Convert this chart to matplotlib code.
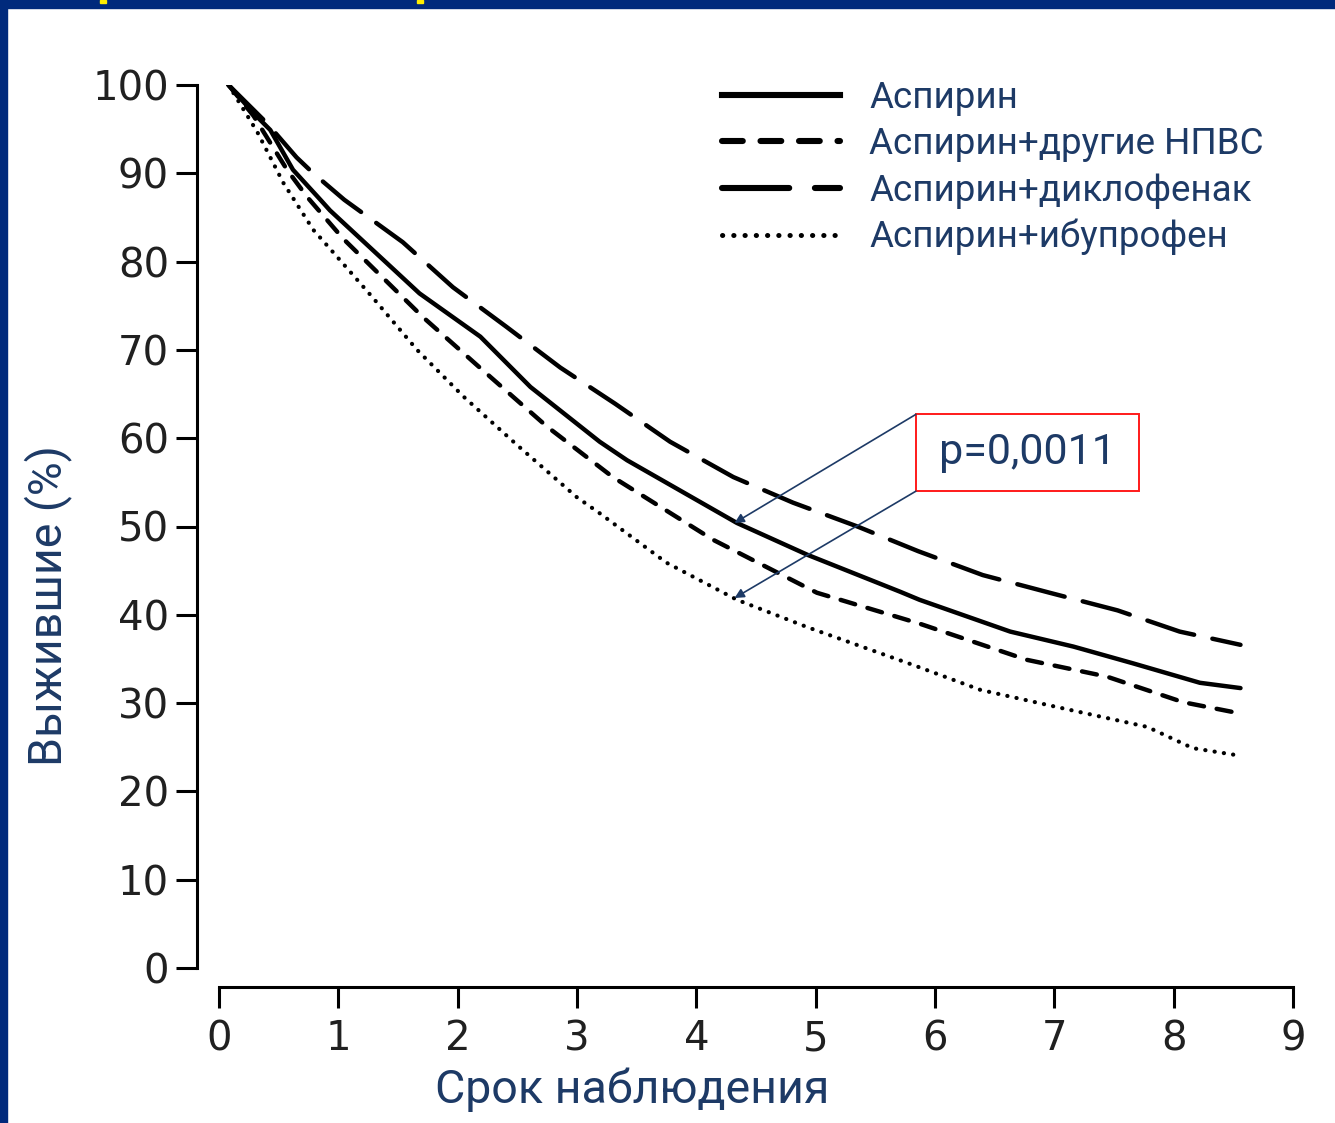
import matplotlib.pyplot as plt
from matplotlib.lines import Line2D
from matplotlib.patches import Rectangle

# Kaplan-Meier curves, years of follow-up vs. survivors (%)
t_asp = [0.08, 0.29, 0.43, 0.62, 0.85, 0.93, 1.68, 2.19, 2.61, 3.19, 3.42, 4.34,
         4.93, 5.71, 5.87, 6.63, 7.16, 7.66, 8.22, 8.56]
s_asp = [100, 96.8, 94.9, 90.4, 87.0, 85.8, 76.4, 71.5, 65.8, 59.6, 57.5, 50.4,
         46.8, 42.6, 41.7, 38.1, 36.4, 34.5, 32.3, 31.7]

t_nsaid = [0.08, 0.29, 0.57, 0.74, 1.04, 1.71, 2.21, 2.75, 3.30, 4.14, 5.01, 5.87,
           6.77, 7.44, 8.08, 8.53]
s_nsaid = [100, 96.5, 90.4, 87.3, 82.6, 73.7, 67.7, 61.3, 55.6, 48.5, 42.5, 39.0,
           34.9, 33.0, 30.1, 28.9]

t_diclo = [0.08, 0.40, 0.65, 0.79, 1.05, 1.54, 1.96, 2.41, 2.86, 3.32, 3.78, 4.31,
           4.81, 5.35, 5.86, 6.40, 6.96, 7.53, 8.05, 8.56]
s_diclo = [100, 95.7, 91.8, 90.0, 87.0, 82.2, 77.1, 72.6, 68.0, 63.9, 59.6, 55.6,
           52.7, 50.0, 47.2, 44.5, 42.5, 40.5, 38.1, 36.6]

t_ibu = [0.08, 0.32, 0.54, 0.79, 0.96, 1.29, 1.66, 2.05, 2.50, 3.00, 3.19, 3.75,
         4.34, 4.93, 5.82, 6.38, 6.94, 7.78, 8.16, 8.53]
s_ibu = [100, 94.7, 88.9, 83.6, 81.0, 75.9, 70.0, 64.7, 59.2, 53.3, 51.5, 45.9,
         41.7, 38.6, 34.3, 31.5, 29.8, 27.3, 24.9, 24.1]

labels = ['Аспирин', 'Аспирин+другие НПВС', 'Аспирин+диклофенак', 'Аспирин+ибупрофен']
x_ticks = list(range(0, 10))
y_ticks = list(range(0, 101, 10))
p_text = 'p=0,0011'

navy = '#1d3a66'
border = '#002a7c'

styles = [dict(linestyle='-'),
          dict(linestyle=(0, (3.4, 2.9)), dash_capstyle='round'),
          dict(linestyle=(0, (11.0, 4.2)), dash_capstyle='round'),
          dict(linestyle=(0, (0.05, 2.2)), dash_capstyle='round')]

fig = plt.figure(figsize=(13.35, 11.23), dpi=100)
fig.patch.set_facecolor('white')

# frame of the slide
fig.patches.append(Rectangle((0, 0), 7 / 1335, 1, transform=fig.transFigure,
                             color=border, zorder=0))
fig.patches.append(Rectangle((0, 1 - 8 / 1123), 1, 8 / 1123, transform=fig.transFigure,
                             color=border, zorder=0))
for x0 in (100, 417):
    fig.patches.append(Rectangle((x0 / 1335, 1 - 3 / 1123), 6 / 1335, 3 / 1123,
                                 transform=fig.transFigure, color='#ffee00', zorder=1))

ax = fig.add_axes([219 / 1335, 155 / 1123, 1074 / 1335, 883 / 1123])

series = [(t_asp, s_asp), (t_nsaid, s_nsaid), (t_diclo, s_diclo), (t_ibu, s_ibu)]
lws = [3.2, 3.2, 3.2, 3.0]
for (t, s), st, lw in zip(series, styles, lws):
    ax.plot(t, s, color='black', lw=lw, solid_capstyle='round', **st)

ax.set_xlim(0, 9)
ax.set_ylim(0, 100)
ax.set_xticks(x_ticks)
ax.set_yticks(y_ticks)

for side in ('top', 'right'):
    ax.spines[side].set_visible(False)
ax.spines['left'].set_position(('outward', 16))
ax.spines['bottom'].set_position(('outward', 14))
for side in ('left', 'bottom'):
    ax.spines[side].set_linewidth(2.2)
ax.tick_params(length=15, width=2.2, colors='black', labelcolor='#202020',
               labelsize=29, pad=5)
ax.tick_params(axis='x', pad=8)
for lab in ax.get_xticklabels() + ax.get_yticklabels():
    lab.set_fontfamily('DejaVu Sans')

ax.set_xlabel('Срок наблюдения', fontsize=33.5, color=navy, family='Roboto')
ax.set_ylabel('Выжившие (%)', fontsize=33.5, color=navy, family='Roboto')
ax.xaxis.set_label_coords(0.385, -0.113)
ax.yaxis.set_label_coords(-0.137, 0.411)

handles = [Line2D([], [], color='black', lw=4.4, **st) for st in styles]
handles[3] = Line2D([], [], color='black', lw=3.6, **styles[3])
leg = ax.legend(handles, labels, loc='upper left',
                bbox_to_anchor=(722 / 1335, 1 - 80 / 1123), bbox_transform=fig.transFigure,
                frameon=False, fontsize=26.5, handlelength=3.2, handletextpad=0.8,
                labelspacing=0.28, borderpad=0, borderaxespad=0)
for txt in leg.get_texts():
    txt.set_color(navy)
    txt.set_fontfamily('Roboto')

# p-value box with arrows to the curves
box_x0, box_x1, box_y0, box_y1 = 5.84, 7.71, 54.0, 62.7
ax.add_patch(Rectangle((box_x0, box_y0), box_x1 - box_x0, box_y1 - box_y0,
                       fill=False, edgecolor='#ff1a1a', lw=1.4, clip_on=False))
ax.text((box_x0 + box_x1) / 2, (box_y0 + box_y1) / 2, p_text, ha='center', va='center',
        fontsize=31, color=navy, family='Roboto')
arrow = dict(arrowstyle='-|>', color=navy, lw=1.2, mutation_scale=14, shrinkA=0, shrinkB=0)
ax.annotate('', xy=(4.32, 50.4), xytext=(box_x0, box_y1), arrowprops=arrow)
ax.annotate('', xy=(4.32, 41.9), xytext=(box_x0, box_y0), arrowprops=arrow)

fig.savefig('out.png', dpi=100, facecolor='white')
